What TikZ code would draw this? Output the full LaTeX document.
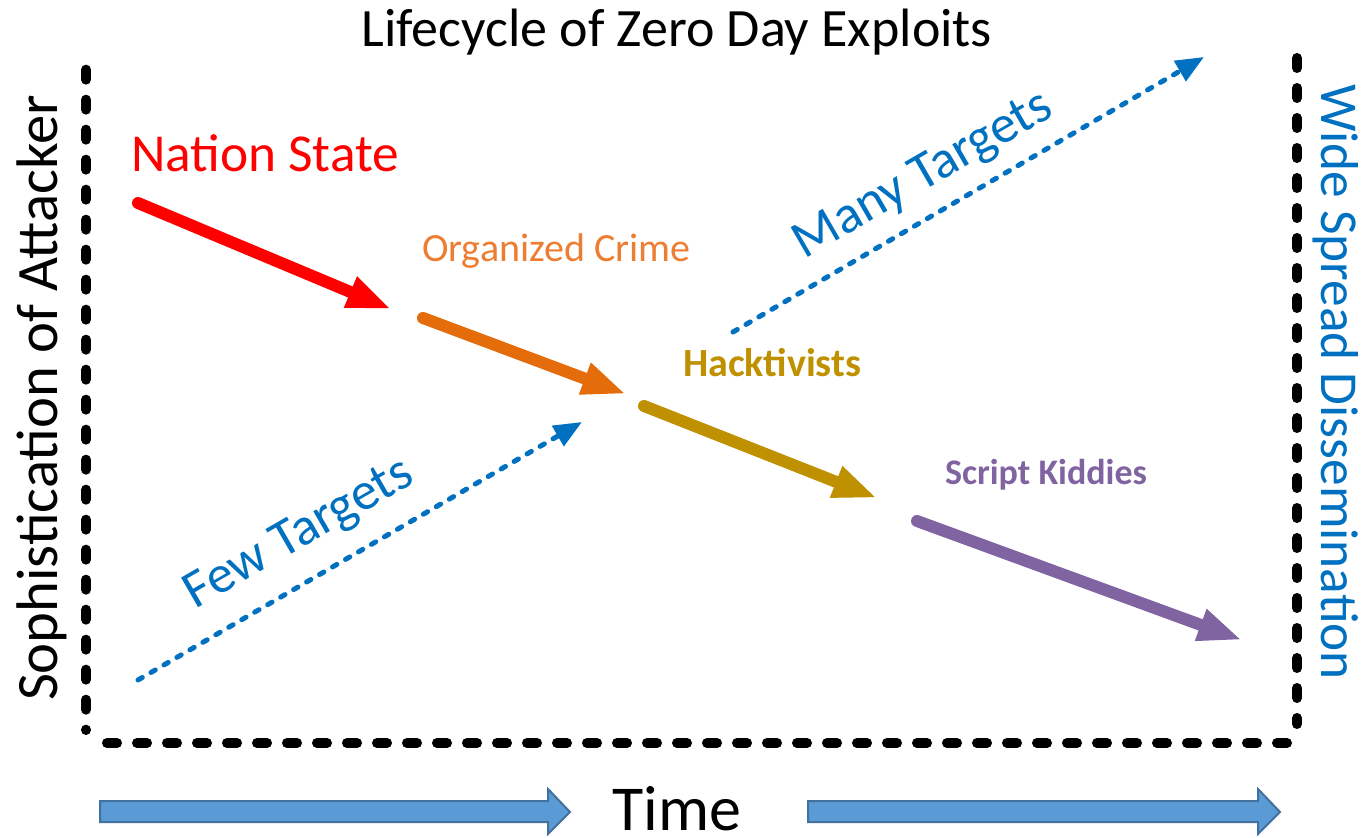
\documentclass[tikz,border=0pt]{standalone}
\usepackage{fontspec}
\setmainfont{Carlito}
\usetikzlibrary{arrows.meta}

\definecolor{nationred}{HTML}{FF0000}
\definecolor{crimeorange}{HTML}{E46C0A}
\definecolor{crimetext}{HTML}{ED7D31}
\definecolor{hackgold}{HTML}{BF9000}
\definecolor{kiddiepurple}{HTML}{8064A2}
\definecolor{spreadblue}{HTML}{0070C0}
\definecolor{timefill}{HTML}{5B9BD5}
\definecolor{timeedge}{HTML}{41719C}

\tikzset{
  frameline/.style={line width=7.5pt, line cap=round, dash pattern=on 7.5pt off 15pt},
  stagearrow/.style={line width=9pt, line cap=round,
    -{Triangle[length=33pt,width=23pt]}},
  reachline/.style={spreadblue, line width=3.75pt, line cap=round,
    dash pattern=on 3.75pt off 7.5pt,
    -{Triangle[length=21pt,width=17pt]}},
  timearrow/.style={fill=timefill, draw=timeedge, line width=1.5pt},
  big/.style={font=\fontsize{40}{48}\selectfont},
  mid/.style={font=\fontsize{30}{36}\selectfont},
  midbold/.style={font=\bfseries\fontsize{27}{32}\selectfont},
}

\begin{document}
\begin{tikzpicture}[x=0.75pt, y=-0.75pt, inner sep=0pt, outer sep=0pt]
  \useasboundingbox (0,0) rectangle (1364,838);

  % title
  \node[font=\fontsize{40.5}{48}\selectfont, anchor=base] (title) at (677,47) {Lifecycle of Zero Day Exploits};

  % dotted frame (left, bottom, right)
  \coordinate (ltop) at (86,67);
  \coordinate (lbot) at (86,730);
  \coordinate (bleft) at (107,743);
  \coordinate (bright) at (1292,743);
  \coordinate (rtop) at (1297,58);
  \coordinate (rbot) at (1297,724);
  \draw[frameline, dash phase=-2pt] (ltop) -- (lbot);
  \draw[frameline] (bleft) -- (bright);
  \draw[frameline] (rtop) -- (rbot);

  % axis labels
  \node[font=\fontsize{44}{52}\selectfont, rotate=90, anchor=base] (yaxis) at (57,398) {Sophistication of Attacker};
  \node[big, rotate=-90, anchor=base, text=spreadblue] (waxis) at (1321,382) {Wide Spread Dissemination};

  % attacker labels
  \node[big, anchor=base west, text=nationred] (nation) at (131,172) {Nation State};
  \node[mid, anchor=base west, text=crimetext] (crime) at (422,262) {Organized Crime};
  \node[font=\bfseries\fontsize{30}{36}\selectfont, anchor=base west, text=hackgold] (hack) at (683,376) {Hacktivists};
  \node[midbold, anchor=base west, text=kiddiepurple] (kiddie) at (945,484) {Script Kiddies};

  % stage arrows
  \coordinate (n1) at (138,203);  \coordinate (n2) at (391,309);
  \coordinate (c1) at (423,318);  \coordinate (c2) at (626,394);
  \coordinate (h1) at (644,406);  \coordinate (h2) at (877,498);
  \coordinate (k1) at (917,521);  \coordinate (k2) at (1242,640);
  \draw[stagearrow, nationred] (n1) -- (n2);
  \draw[stagearrow, crimeorange] (c1) -- (c2);
  \draw[stagearrow, hackgold] (h1) -- (h2);
  \draw[stagearrow, kiddiepurple] (k1) -- (k2);

  % target reach
  \coordinate (f1) at (138,680);  \coordinate (f2) at (582,422);
  \coordinate (m1) at (733,332);  \coordinate (m2) at (1204,57);
  \draw[reachline] (f1) -- (f2);
  \draw[reachline] (m1) -- (m2);
  \node[big, rotate=30, anchor=base, text=spreadblue] (few) at (306,546) {Few Targets};
  \node[big, rotate=30, anchor=base, text=spreadblue] (many) at (930,187) {Many Targets};

  % time axis
  \node[font=\fontsize{48}{58}\selectfont, anchor=base] (time) at (677,830) {Time};
  \draw[timearrow] (100,801) -- (548,801) -- (548,789) -- (570,812) -- (548,834)
    -- (548,822) -- (100,822) -- cycle;
  \draw[timearrow] (808,801) -- (1258,801) -- (1258,789) -- (1280,812) -- (1258,834)
    -- (1258,822) -- (808,822) -- cycle;
\end{tikzpicture}
\end{document}
